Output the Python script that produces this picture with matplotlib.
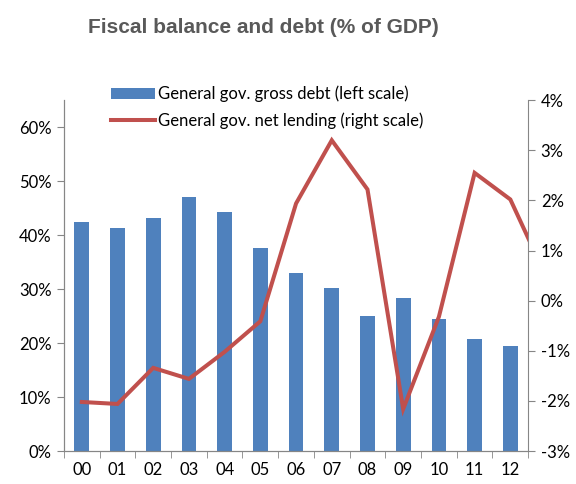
import matplotlib
matplotlib.use("Agg")
import matplotlib.pyplot as plt
from matplotlib.ticker import FuncFormatter, MultipleLocator, FixedLocator

plt.rcParams['font.family'] = ['Lato', 'DejaVu Sans']

years = ["00", "01", "02", "03", "04", "05", "06", "07", "08", "09", "10", "11", "12"]
gross_debt = [42.4, 41.4, 43.2, 47.0, 44.2, 37.7, 33.0, 30.2, 25.0, 28.3, 24.5, 20.8, 19.5]
# net lending continues one period past the last label (clipped at the right edge)
net_lending = [-2.02, -2.06, -1.34, -1.56, -1.02, -0.41, 1.94, 3.20, 2.22, -2.16, -0.32, 2.55, 2.02, 0.48]

bar_color = '#4F81BD'
line_color = '#C0504D'
axis_color = '#868686'

fig = plt.figure(figsize=(5.76, 4.84), dpi=100)
ax1 = fig.add_axes([0.111, 0.068, 0.806, 0.725])
ax2 = ax1.twinx()

x = list(range(len(years)))
ax1.bar(x, gross_debt, width=0.41, color=bar_color, label='General gov. gross debt (left scale)', zorder=2)
ax2.plot(list(range(len(net_lending))), net_lending, color=line_color, lw=2.9,
         label='General gov. net lending (right scale)', solid_joinstyle='miter', zorder=3)

ax1.set_xlim(-0.5, len(years) - 0.5)
ax1.set_ylim(0, 65)
ax2.set_ylim(-3, 4)

ax1.yaxis.set_major_locator(MultipleLocator(10))
ax1.yaxis.set_major_formatter(FuncFormatter(lambda v, p: f"{v:.0f}%"))
ax2.yaxis.set_major_locator(MultipleLocator(1))
ax2.yaxis.set_major_formatter(FuncFormatter(lambda v, p: f"{v:.0f}%"))

ax1.set_xticks(x)
ax1.set_xticklabels(years)
ax1.xaxis.set_minor_locator(FixedLocator([i - 0.5 for i in range(len(years) + 1)]))
ax1.tick_params(axis='x', which='major', length=0, labelsize=12, pad=8)
ax1.tick_params(axis='x', which='minor', length=5, color=axis_color, direction='out')
ax1.tick_params(axis='y', length=5, color=axis_color, labelsize=12, pad=4)
ax2.tick_params(axis='y', length=5, color=axis_color, labelsize=12, pad=4)

for ax in (ax1, ax2):
    ax.spines['top'].set_visible(False)
    for s in ('left', 'right', 'bottom'):
        ax.spines[s].set_color(axis_color)
ax1.spines['right'].set_visible(False)

h1, l1 = ax1.get_legend_handles_labels()
h2, l2 = ax2.get_legend_handles_labels()
ax2.legend(h1 + h2, l1 + l2, loc='upper left', bbox_to_anchor=(0.088, 1.06), frameon=False,
           fontsize=12, handlelength=2.6, handletextpad=0.2, labelspacing=0.6, borderaxespad=0)

fig.text(0.457, 0.943, "Fiscal balance and debt (% of GDP)", ha='center', va='center',
         fontsize=15, fontweight='bold', color='#595959', family=['Liberation Sans', 'DejaVu Sans'])

fig.savefig("out.png", dpi=100)
